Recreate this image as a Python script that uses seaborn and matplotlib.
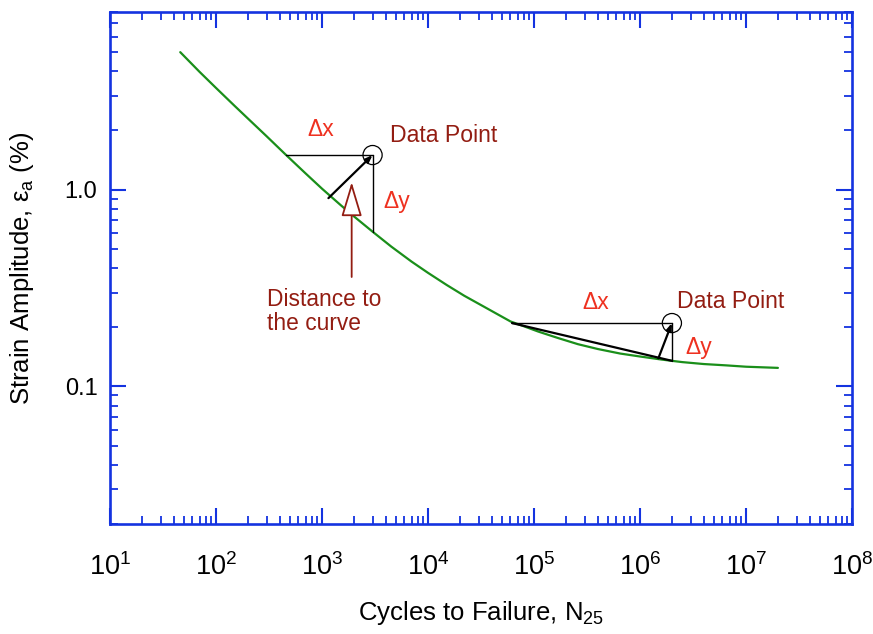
import matplotlib
matplotlib.use("Agg")
import matplotlib.pyplot as plt
import seaborn as sns
import pandas as pd
from matplotlib.ticker import FixedLocator, FixedFormatter, NullFormatter, LogLocator

# ---- data ----
cycles = [46, 70, 100, 150, 200, 300, 450, 700, 1000, 1500, 2000, 3000, 4500, 7000,
          1e4, 1.5e4, 2.2e4, 3.3e4, 5e4, 6e4, 7.5e4, 1.1e5, 1.7e5, 2.6e5, 4e5, 6.5e5,
          1e6, 1.6e6, 2.5e6, 4e6, 6.5e6, 1e7, 1.5e7, 2e7]
strain = [5.0, 3.97, 3.29, 2.665, 2.30, 1.87, 1.515, 1.21, 1.012, 0.835, 0.732, 0.612,
          0.514, 0.431, 0.378, 0.328, 0.289, 0.256, 0.226, 0.214, 0.205, 0.190, 0.176,
          0.164, 0.155, 0.147, 0.142, 0.137, 0.133, 0.130, 0.128, 0.126, 0.125, 0.1243]

point_N = [3000, 2.0e6]
point_eps = [1.5, 0.21]
# curve ends of the construction lines
dx_N = [460, 6.2e4]          # horizontal line start (on curve)
dy_eps = [0.612, 0.135]      # vertical line end (on curve)
perp_N = [1150, 1.49e6]      # closest-distance line end (on curve)
perp_eps = [0.906, 0.139]

x_major = [1e1, 1e2, 1e3, 1e4, 1e5, 1e6, 1e7, 1e8]
x_labels = [r"$\mathregular{10^{%d}}$" % k for k in range(1, 9)]
y_major = [0.1, 1.0]
y_labels = ["0.1", "1.0"]

BLUE = "#1433e0"
GREEN = "#1a8f1a"
DARKRED = "#931d12"
RED = "#ee3120"

sns.set_theme(style="ticks")
plt.rcParams["font.family"] = ["Liberation Sans", "DejaVu Sans"]
plt.rcParams["mathtext.fontset"] = "custom"
plt.rcParams["mathtext.rm"] = "Liberation Sans"
plt.rcParams["mathtext.it"] = "Liberation Sans:italic"
plt.rcParams["text.color"] = "black"
plt.rcParams["axes.labelcolor"] = "black"

fig = plt.figure(figsize=(8.73, 6.34), dpi=100)
ax = fig.add_axes([110 / 873, 1 - 524 / 634, (852 - 110) / 873, (524 - 12) / 634])

df = pd.DataFrame({"N": cycles, "eps": strain})
sns.lineplot(data=df, x="N", y="eps", ax=ax, color=GREEN, lw=1.6, sort=True)

ax.set_xscale("log")
ax.set_yscale("log")
ax.set_xlim(1e1, 1e8)
ax.set_ylim(0.02, 8)

# construction lines
for i in range(2):
    ax.plot([dx_N[i], point_N[i]], [point_eps[i], point_eps[i]], color="black", lw=1.0)
    ax.plot([point_N[i], point_N[i]], [point_eps[i], dy_eps[i]], color="black", lw=1.0)
    ax.annotate("", xy=(point_N[i], point_eps[i]), xytext=(perp_N[i], perp_eps[i]),
                arrowprops=dict(arrowstyle="-|>,head_length=0.4,head_width=0.15",
                                color="black", lw=1.6, shrinkA=0, shrinkB=0,
                                mutation_scale=10))
# chord of second triangle
ax.plot([dx_N[1], point_N[1]], [point_eps[1], dy_eps[1]], color="black", lw=1.6)

# data points
pts = pd.DataFrame({"N": point_N, "eps": point_eps})
sns.scatterplot(data=pts, x="N", y="eps", ax=ax, s=190, facecolors="none",
                edgecolors="black", linewidths=0.9, zorder=5)

# labels
ax.text(733, 1.866, "Δx", color=RED, fontsize=16.5, ha="left", va="baseline")
ax.text(4385, 1.746, "Data Point", color=DARKRED, fontsize=16.6, ha="left", va="baseline")
ax.text(3785, 0.803, "Δy", color=RED, fontsize=16.5, ha="left", va="baseline")
ax.text(2.88e5, 0.249, "Δx", color=RED, fontsize=16.5, ha="left", va="baseline")
ax.text(2.25e6, 0.25, "Data Point", color=DARKRED, fontsize=16.6, ha="left", va="baseline")
ax.text(2.66e6, 0.1466, "Δy", color=RED, fontsize=16.5, ha="left", va="baseline")
ax.text(305, 0.1926, "Distance to\nthe curve", color=DARKRED, fontsize=16.4,
        ha="left", va="baseline", linespacing=1.1)

ax.annotate("", xy=(1905, 1.093), xytext=(1905, 0.36),
            arrowprops=dict(arrowstyle="-|>,head_length=2.16,head_width=0.65",
                            fc="white", ec=DARKRED, lw=1.3, shrinkA=0, shrinkB=0,
                            mutation_scale=10))

# axes styling
for sp in ax.spines.values():
    sp.set_color(BLUE)
    sp.set_linewidth(1.9)
    sp.set_visible(True)

ax.xaxis.set_major_locator(FixedLocator(x_major))
ax.xaxis.set_major_formatter(FixedFormatter(x_labels))
ax.yaxis.set_major_locator(FixedLocator(y_major))
ax.yaxis.set_major_formatter(FixedFormatter(y_labels))
ax.xaxis.set_minor_locator(LogLocator(base=10, subs=range(2, 10), numticks=20))
ax.yaxis.set_minor_locator(LogLocator(base=10, subs=range(2, 10), numticks=20))
ax.xaxis.set_minor_formatter(NullFormatter())
ax.yaxis.set_minor_formatter(NullFormatter())

ax.tick_params(which="both", direction="in", top=True, right=True, color=BLUE,
               labelcolor="black")
ax.tick_params(which="major", length=11.5, width=1.5)
ax.tick_params(which="minor", length=6, width=1.3)
ax.tick_params(axis="x", which="major", labelsize=19.5, pad=21)
ax.tick_params(axis="y", which="major", labelsize=17, pad=9)

ax.set_xlabel(r"Cycles to Failure, N$_\mathregular{25}$", fontsize=18.5, color="black")
ax.set_ylabel(r"Strain Amplitude, ε$_\mathregular{a}$ (%)", fontsize=18.5, color="black")
ax.xaxis.set_label_coords(0.5, (524 - 599) / 512)
ax.yaxis.set_label_coords((36 - 110) / 742, 0.5)
ax.grid(False)

fig.savefig("out.png", dpi=100)
